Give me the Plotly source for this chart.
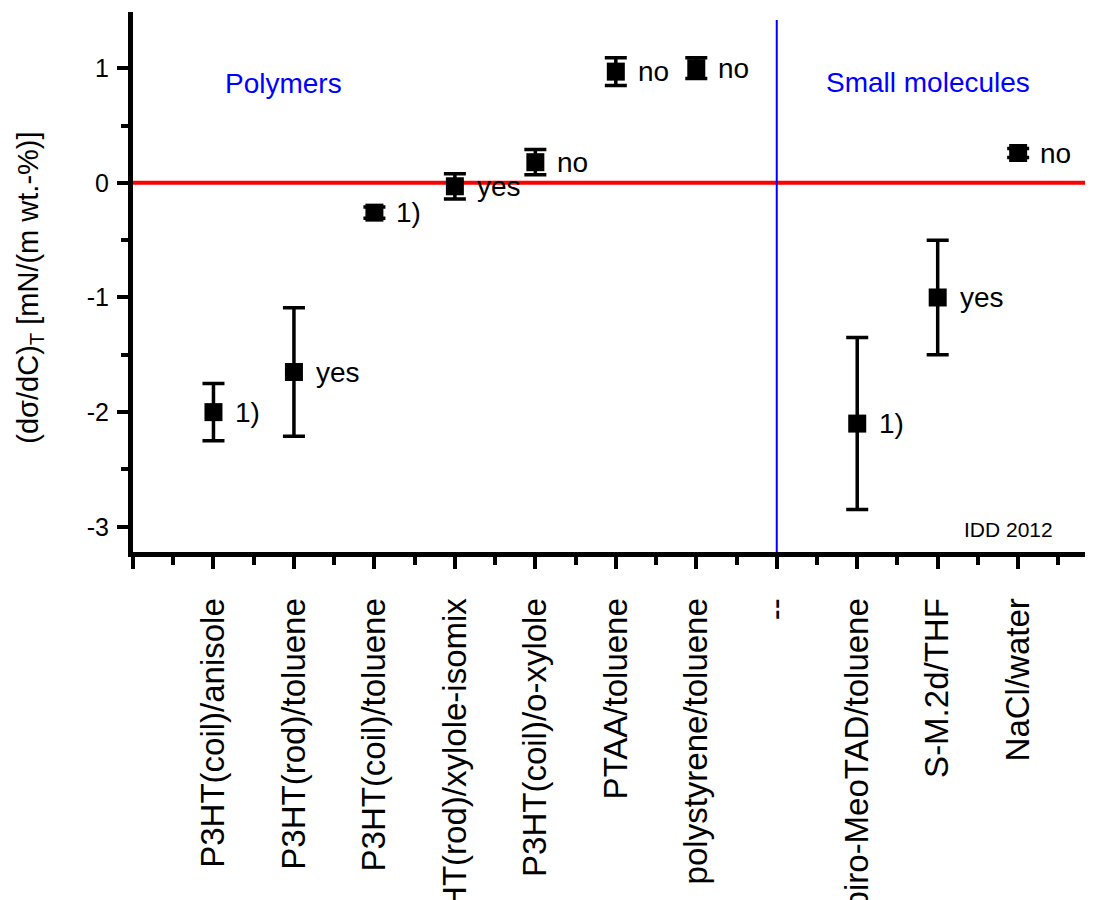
import plotly.graph_objects as go

# ---- data ----
categories = ["P3HT(coil)/anisole", "P3HT(rod)/toluene", "P3HT(coil)/toluene",
              "P3HT(rod)/xylole-isomix", "P3HT(coil)/o-xylole", "PTAA/toluene",
              "polystyrene/toluene", "--", "Spiro-MeoTAD/toluene", "S-M.2d/THF",
              "NaCl/water"]
positions = [1, 2, 3, 4, 5, 6, 7, 8, 9, 10, 11]
values = [-2.0, -1.65, -0.26, -0.03, 0.18, 0.97, 1.0, None, -2.1, -1.0, 0.26]
errors = [0.25, 0.56, 0.05, 0.11, 0.11, 0.12, 0.09, None, 0.75, 0.5, 0.04]
notes = ["1)", "yes", "1)", "yes", "no", "no", "no", None, "1)", "yes", "no"]
separator_x = 8
zero_value = 0.0
y_ticks = [-3, -2, -1, 0, 1]
y_ticktext = ["-3", "-2", "-1", "0", "1"]

FONT = "Liberation Sans, Arial, sans-serif"

xs = [p for p, v in zip(positions, values) if v is not None]
ys = [v for v in values if v is not None]
es = [e for e in errors if e is not None]

fig = go.Figure()
fig.add_trace(go.Scatter(
    x=xs, y=ys, mode="markers",
    marker=dict(symbol="square", size=18, color="black"),
    error_y=dict(type="data", array=es, visible=True, color="black",
                 thickness=3.5, width=11),
    showlegend=False, cliponaxis=False))

# zero line and separator
fig.add_shape(type="line", xref="x", yref="y", x0=0, x1=11.93,
              y0=zero_value, y1=zero_value, line=dict(color="#ff0000", width=4), layer="below")
fig.add_shape(type="line", xref="x", yref="y", x0=separator_x, x1=separator_x,
              y0=-3.22, y1=1.42, line=dict(color="#0000ff", width=2), layer="below")

for p, v, n in zip(positions, values, notes):
    if n is None:
        continue
    fig.add_annotation(x=p, y=v, xref="x", yref="y", text=n, showarrow=False,
                       xanchor="left", yanchor="middle", xshift=20,
                       font=dict(family=FONT, size=28, color="black"))

fig.add_annotation(x=1.876, y=0.87, xref="x", yref="y", text="Polymers",
                   showarrow=False, xanchor="center",
                   font=dict(family=FONT, size=28, color="#0000ff"))
fig.add_annotation(x=9.876, y=0.878, xref="x", yref="y", text="Small molecules",
                   showarrow=False, xanchor="center",
                   font=dict(family=FONT, size=28, color="#0000ff"))
fig.add_annotation(x=10.88, y=-3.02, xref="x", yref="y", text="IDD 2012",
                   showarrow=False, xanchor="center",
                   font=dict(family=FONT, size=21, color="black"))
fig.add_annotation(x=-0.107, y=0.49, xref="paper", yref="paper",
                   text="(dσ/dC)<sub>T</sub> [mN/(m wt.-%)]", textangle=-90,
                   showarrow=False, xanchor="center", yanchor="middle",
                   font=dict(family=FONT, size=29, color="black"))

fig.update_layout(
    width=1085, height=892,
    margin=dict(l=125, r=0, t=4, b=348),
    paper_bgcolor="white", plot_bgcolor="white",
    showlegend=False,
    xaxis=dict(range=[0, 11.93], tickmode="array",
               tickvals=[0] + positions, ticktext=[""] + categories,
               tickangle=-90, ticks="outside", ticklen=12, tickwidth=4,
               tickcolor="black", showline=True, linewidth=5, linecolor="black",
               showgrid=False, zeroline=False, automargin=False,
               ticklabelstandoff=16,
               tickfont=dict(family=FONT, size=33, color="black"),
               minor=dict(tickmode="array",
                          tickvals=[0.5 + i for i in range(12)],
                          ticks="outside", ticklen=8, tickwidth=4,
                          tickcolor="black", showgrid=False)),
    yaxis=dict(range=[-3.22, 1.49], tickmode="array", tickvals=y_ticks,
               ticktext=y_ticktext,
               ticks="outside", ticklen=11, tickwidth=4, tickcolor="black",
               showline=True, linewidth=5, linecolor="black",
               showgrid=False, zeroline=False, automargin=False,
               ticklabelstandoff=3,
               tickfont=dict(family=FONT, size=25, color="black"),
               minor=dict(tickmode="array", tickvals=[-2.5, -1.5, -0.5, 0.5],
                          ticks="outside", ticklen=7, tickwidth=4,
                          tickcolor="black", showgrid=False)),
)

fig.write_html("out.html")
